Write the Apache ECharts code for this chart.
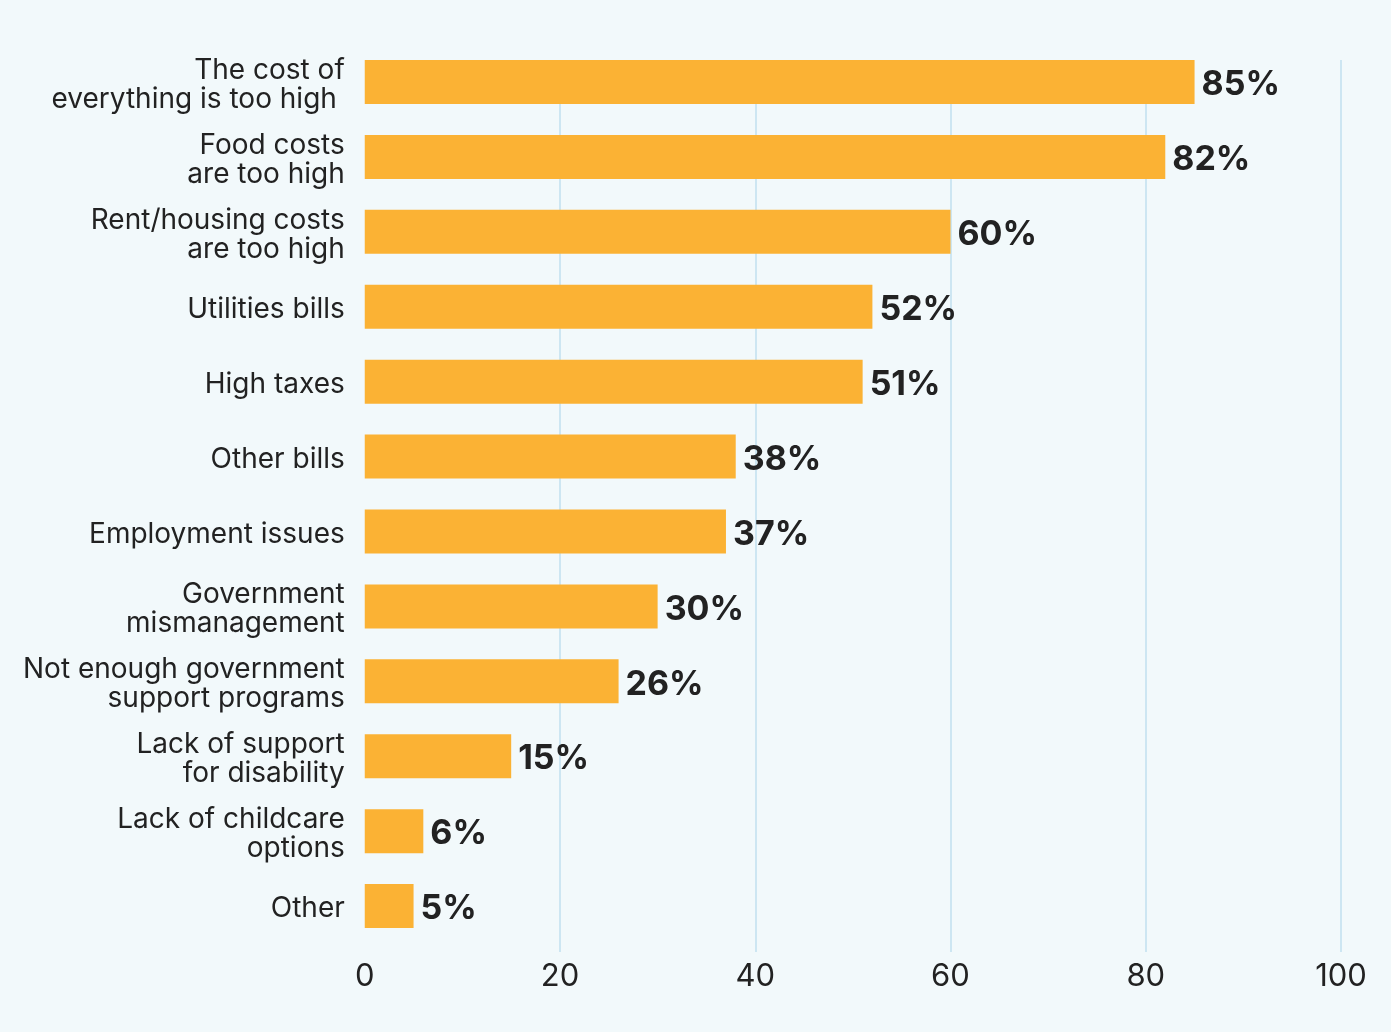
<!DOCTYPE html>
<html>
<head>
<meta charset="utf-8">
<script src="https://cdn.jsdelivr.net/npm/echarts@6/dist/echarts.min.js"></script>
<style>
  html, body { margin: 0; padding: 0; background: #F2F9FB; }
  #chart { width: 1391px; height: 1032px; }
</style>
</head>
<body>
<div id="chart"></div>
<script>
// Reasons people give for financial strain (% of respondents)
const categories = [
  'The cost of\neverything is too high ',
  'Food costs\nare too high',
  'Rent/housing costs\nare too high',
  'Utilities bills',
  'High taxes',
  'Other bills',
  'Employment issues',
  'Government\nmismanagement',
  'Not enough government\nsupport programs',
  'Lack of support\nfor disability',
  'Lack of childcare\noptions',
  'Other'
];
const values = [85, 82, 60, 52, 51, 38, 37, 30, 26, 15, 6, 5];
const axisTicks = [0, 20, 40, 60, 80, 100];

const FONT = 'Inter, "Noto Sans", sans-serif';
const TEXT = '#222222';

const chart = echarts.init(document.getElementById('chart'), null, { renderer: 'canvas' });

chart.setOption({
  backgroundColor: '#F2F9FB',
  animation: false,
  grid: [
    { left: 364.75, right: 50, top: 44.5, bottom: 88.5 },   // bars
    { left: 364.75, right: 50, top: 60, bottom: 80 },       // value axis + gridlines
    { left: 364.75, right: 50, top: 47.5, bottom: 85.5 }    // category labels
  ],
  xAxis: [
    { gridIndex: 0, type: 'value', min: 0, max: 100, show: false },
    {
      gridIndex: 1, type: 'value',
      min: axisTicks[0], max: axisTicks[axisTicks.length - 1], interval: 20,
      axisLine: { show: false },
      axisTick: { show: false },
      axisLabel: { color: TEXT, fontFamily: FONT, fontSize: 31, margin: 9 },
      splitLine: { show: true, showMinLine: false, lineStyle: { color: '#CDE6F2', width: 2 } }
    },
    { gridIndex: 2, type: 'value', min: 0, max: 100, show: false }
  ],
  yAxis: [
    { gridIndex: 0, type: 'category', data: categories, inverse: true, show: false },
    { gridIndex: 1, type: 'value', show: false, min: 0, max: 1 },
    {
      gridIndex: 2, type: 'category', data: categories, inverse: true,
      axisLine: { show: false },
      axisTick: { show: false },
      splitLine: { show: false },
      axisLabel: {
        color: TEXT, fontFamily: FONT, fontSize: 28, lineHeight: 29,
        margin: 20, align: 'right'
      }
    }
  ],
  series: [
    {
      type: 'bar',
      xAxisIndex: 0, yAxisIndex: 0,
      data: values,
      barWidth: 44,
      itemStyle: { color: '#FBB234' },
      label: {
        show: true, position: 'right', distance: 7, offset: [0, 3],
        formatter: '{c}%',
        color: TEXT, fontFamily: FONT, fontWeight: 'bold', fontSize: 34
      }
    }
  ]
});
</script>
</body>
</html>
